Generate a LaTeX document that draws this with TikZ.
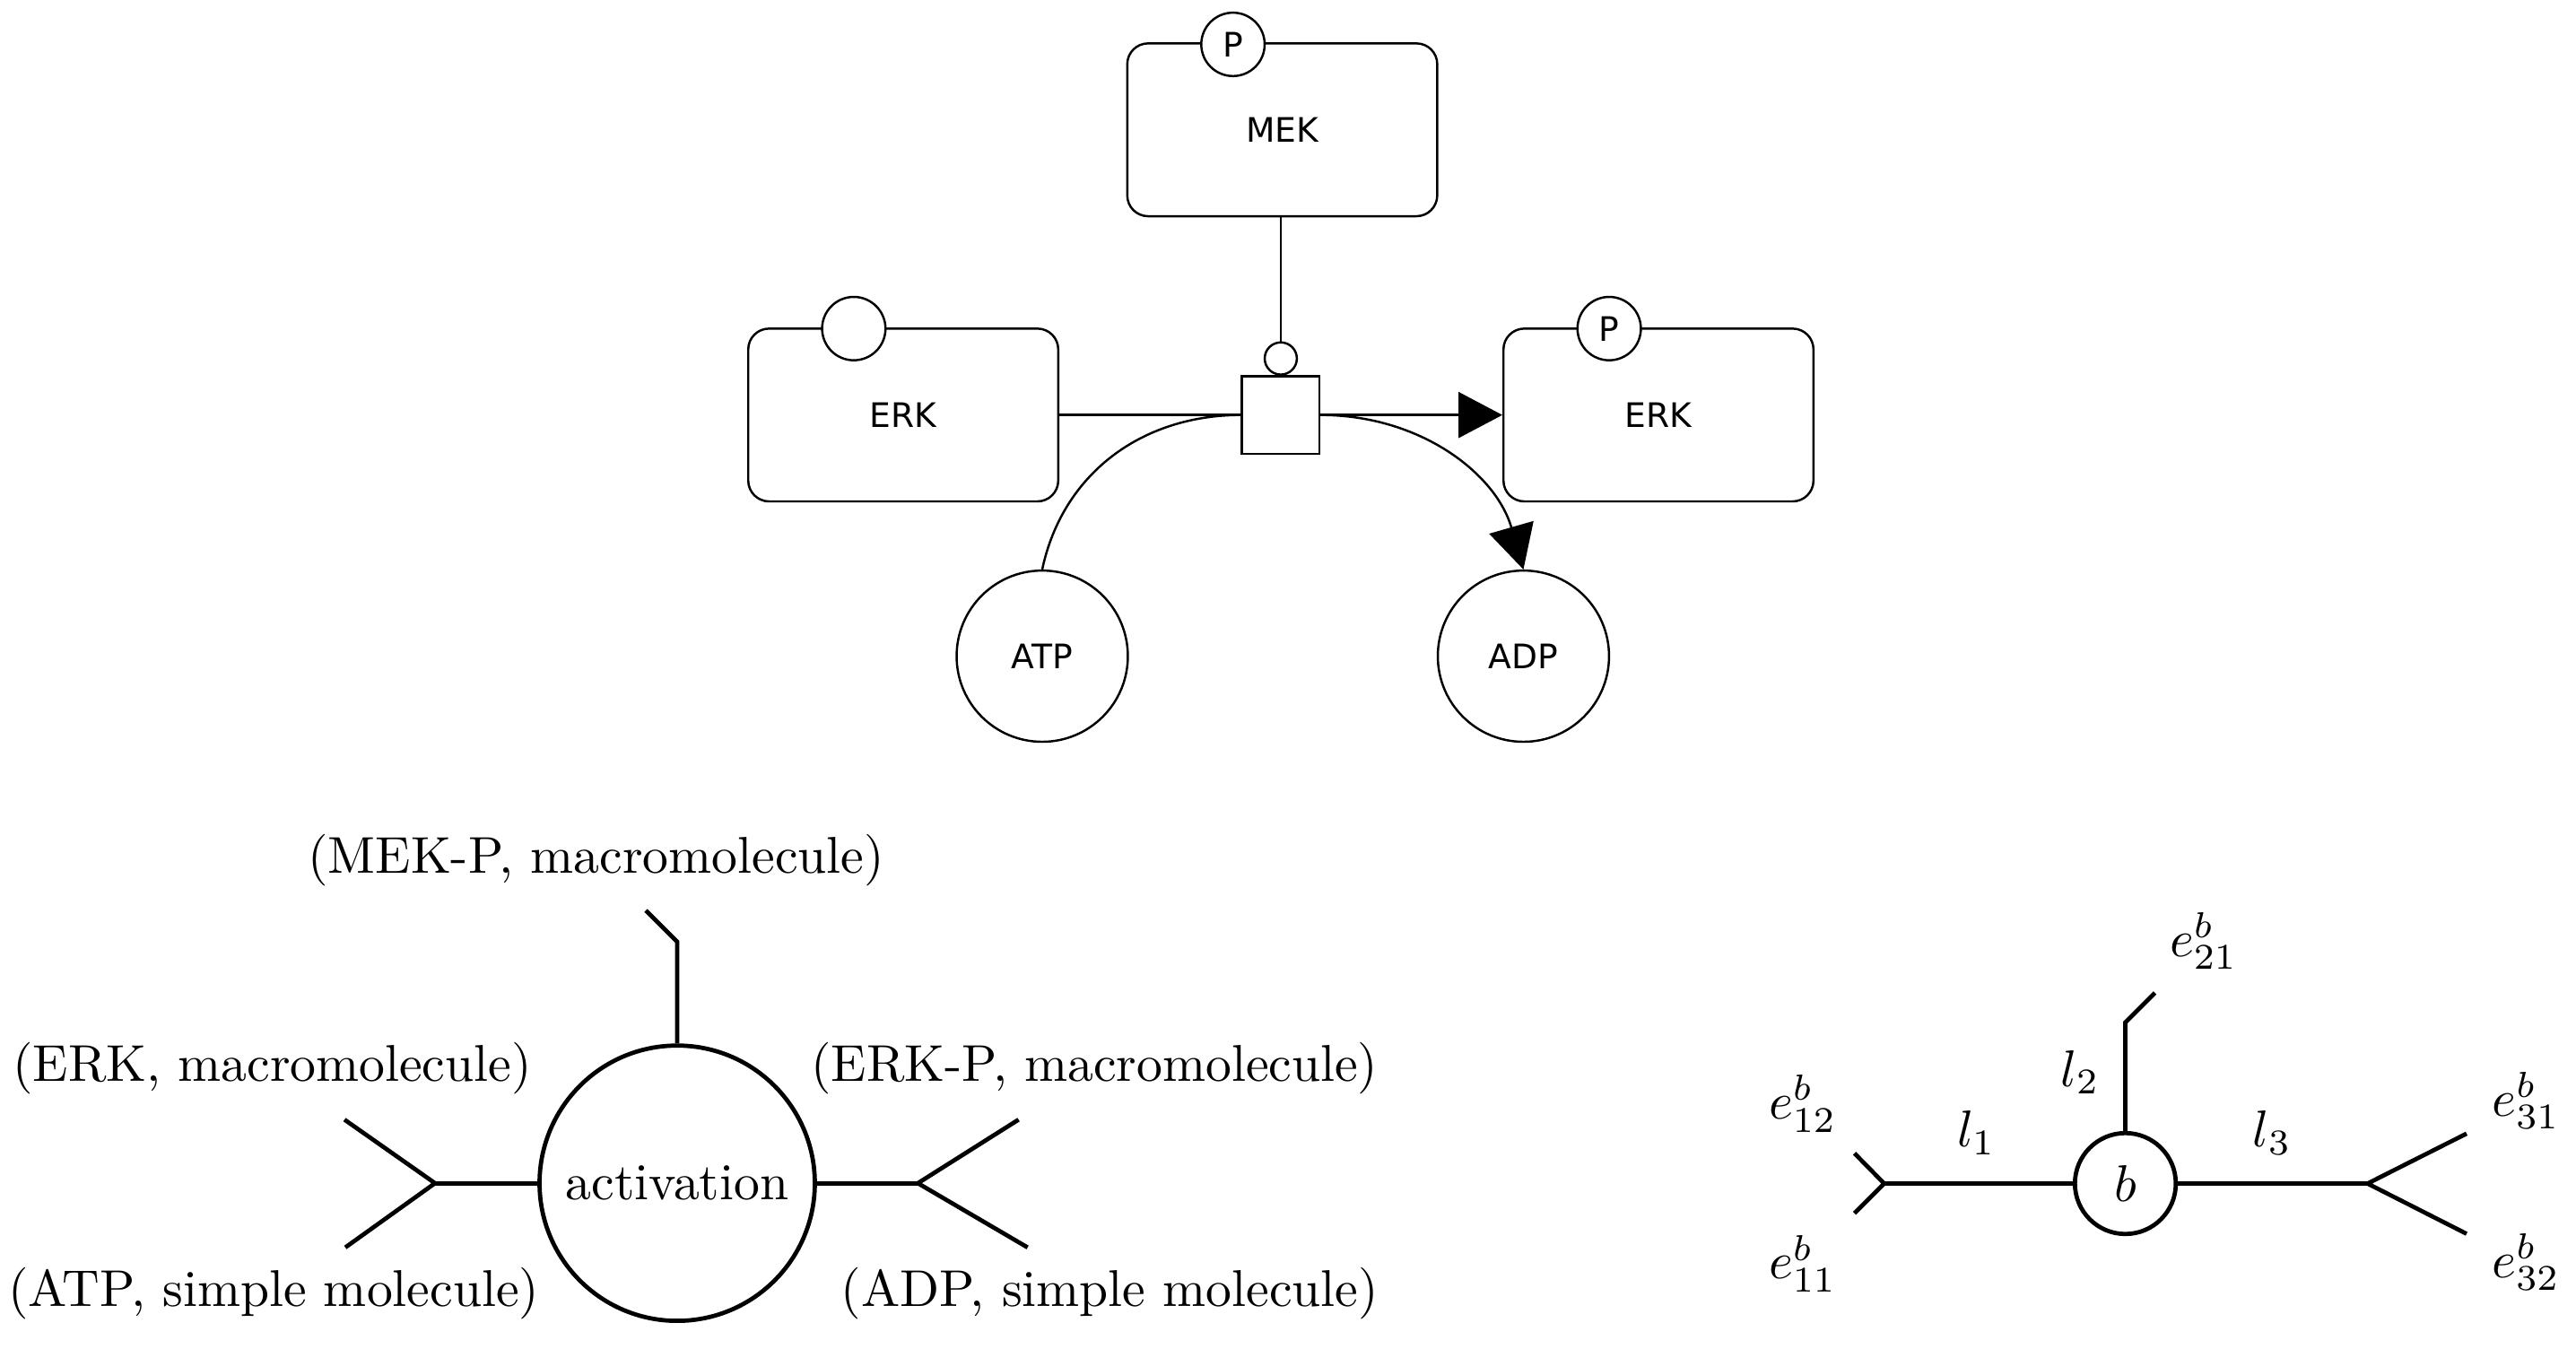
\documentclass[tikz,border=0pt]{standalone}
\usepackage{fontspec}
\usepackage{graphicx}
\newfontfamily\sbgnfont{DejaVu Sans}
\usetikzlibrary{arrows.meta}
\newcommand{\bigtx}[1]{\scalebox{1.64}{#1}}
\begin{document}
\begin{tikzpicture}[x=0.018316cm, y=0.018316cm,
  thinl/.style={line width=0.7pt},
  thickl/.style={line width=1.35pt},
  sbgntext/.style={font=\fontsize{10.7}{12}\sbgnfont},
  macro/.style={draw, thinl, rounded corners=6.6pt, minimum width=98.3pt, minimum height=54.8pt, inner sep=0pt, sbgntext},
  svar/.style={draw, thinl, circle, fill=white, minimum size=20.1pt, inner sep=0pt, sbgntext},
  simplechem/.style={draw, thinl, circle, minimum size=54.3pt, inner sep=0pt, sbgntext},
  procbox/.style={draw, thinl, rectangle, fill=white, minimum size=24.6pt, inner sep=0pt},
  catcirc/.style={draw, thinl, circle, fill=white, minimum size=10.2pt, inner sep=0pt},
  prodarrow/.style={thinl, -{Triangle[length=13.9pt,width=14.5pt]}},
  lbl/.style={inner sep=0pt, anchor=base},
  mlbl/.style={inner sep=0pt, anchor=base west},
  bignode/.style={draw, thickl, circle, inner sep=0pt}
]
\useasboundingbox (0,0) rectangle (1568,-821);

% ---------- top: SBGN process diagram ----------
\node[macro] (mek) at (780.5,-79) {MEK};
\node[svar] (mekp) at (750.5,-27) {P};
\node[macro] (erkl) at (549.8,-252.6) {ERK};
\node[svar] (erkls) at (519.7,-200) {};
\node[macro] (erkr) at (1009.5,-252.6) {ERK};
\node[svar] (erkrp) at (979.5,-200) {P};
\node[simplechem] (atp) at (634.4,-399.4) {ATP};
\node[simplechem] (adp) at (927.3,-399.4) {ADP};
\node[procbox] (proc) at (779.6,-252.6) {};
\node[catcirc] (cat) at (779.6,-218.2) {};

\draw[thinl] (mek.south -| cat.north) -- (cat.north);
\draw[thinl] (erkl.east) -- (proc.west);
\draw[thinl] (atp.north) to[out=78,in=180] (proc.west);
\draw[prodarrow] (proc.east) -- (erkr.west);
\draw[prodarrow] (proc.east) to[out=0,in=106] (adp.north);

% ---------- bottom left: activation hyperedge ----------
\node[bignode, minimum size=87.3pt] (act) at (412.2,-720.2) {\bigtx{activation}};
\coordinate (actT1) at (412.2,-573.3);
\coordinate (actT2) at (393.1,-554.2);
\coordinate (actL) at (264.8,-720.2);
\coordinate (actLa) at (209.7,-681.5);
\coordinate (actLb) at (210.2,-759.3);
\coordinate (actR) at (558.7,-720.2);
\coordinate (actRa) at (620,-681.5);
\coordinate (actRb) at (625.5,-759.3);
\draw[thickl] (act.north) -- (actT1) -- (actT2);
\draw[thickl] (act.west) -- (actL);
\draw[thickl] (actLa) -- (actL) -- (actLb);
\draw[thickl] (act.east) -- (actR);
\draw[thickl] (actRa) -- (actR) -- (actRb);

\node[lbl] (lmekp) at (362.9,-531.5) {\bigtx{(MEK-P, macromolecule)}};
\node[lbl] (lerk) at (165.7,-658.2) {\bigtx{(ERK, macromolecule)}};
\node[lbl] (lerkp) at (666.3,-658.2) {\bigtx{(ERK-P, macromolecule)}};
\node[lbl] (latp) at (166.6,-795.3) {\bigtx{(ATP, simple molecule)}};
\node[lbl] (ladp) at (675.5,-795.3) {\bigtx{(ADP, simple molecule)}};

% ---------- bottom right: abstract hyperedge b ----------
\node[bignode, minimum size=32pt] (b) at (1293.7,-720.4) {\bigtx{$b$}};
\coordinate (bT1) at (1293.7,-622.3);
\coordinate (bT2) at (1311.7,-604.3);
\coordinate (bL) at (1146.9,-720.4);
\coordinate (bLa) at (1128.8,-702);
\coordinate (bLb) at (1128.8,-738.5);
\coordinate (bR) at (1441.1,-720.4);
\coordinate (bRa) at (1501.4,-690);
\coordinate (bRb) at (1501.4,-751);
\draw[thickl] (b.north) -- (bT1) -- (bT2);
\draw[thickl] (b.west) -- (bL);
\draw[thickl] (bLa) -- (bL) -- (bLb);
\draw[thickl] (b.east) -- (bR);
\draw[thickl] (bRa) -- (bR) -- (bRb);

\node[mlbl] (e12) at (1076.3,-681.3) {\bigtx{$e^b_{12}$}};
\node[mlbl] (e11) at (1076.3,-778.5) {\bigtx{$e^b_{11}$}};
\node[mlbl] (e21) at (1320.3,-582) {\bigtx{$e^b_{21}$}};
\node[mlbl] (e31) at (1516.6,-679.5) {\bigtx{$e^b_{31}$}};
\node[mlbl] (e32) at (1516.6,-777.5) {\bigtx{$e^b_{32}$}};
\node[mlbl] (l1) at (1190.9,-698) {\bigtx{$l_1$}};
\node[mlbl] (l2) at (1254.2,-661.3) {\bigtx{$l_2$}};
\node[mlbl] (l3) at (1371,-698) {\bigtx{$l_3$}};
\end{tikzpicture}
\end{document}
